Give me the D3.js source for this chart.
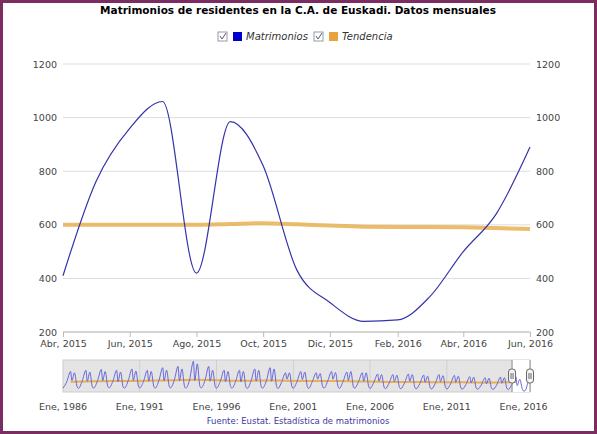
<!DOCTYPE html><html><head><meta charset="utf-8"><script src="https://cdn.jsdelivr.net/npm/d3@7"></script>
<style>body{margin:0;background:#fff}svg{display:block;font-family:Verdana,"DejaVu Sans",sans-serif}</style></head><body><svg id="c" width="597" height="434"></svg><script>
const months=["2015-04","2015-05","2015-06","2015-07","2015-08","2015-09","2015-10","2015-11","2015-12","2016-01","2016-02","2016-03","2016-04","2016-05","2016-06"];
const matrimonios=[410,760,960,1060,420,985,820,430,310,240,245,330,500,640,890];
const tendencia=[600,600,600,600,600,603,606,602,597,593,592,592,591,588,584];
const yTicks=[200,400,600,800,1000,1200];
const xTickLabels=["Abr, 2015","Jun, 2015","Ago, 2015","Oct, 2015","Dic, 2015","Feb, 2016","Abr, 2016","Jun, 2016"];
const xTickDates=["2015-04","2015-06","2015-08","2015-10","2015-12","2016-02","2016-04","2016-06"];
// navigator: per year values at Jan, Apr, Jul, Aug, Oct, Dec
const navYears=d3.range(1986,2016);
const navVals=[
[350,600,1000,650,950,420],[340,620,1050,620,980,400],[350,640,1080,640,1000,420],[360,620,1050,600,980,400],[350,640,1100,650,1020,430],
[360,620,1050,620,1000,420],[350,650,1150,640,1050,430],[360,660,1200,640,1100,420],[350,680,1400,650,1300,430],[360,650,1200,620,1050,420],
[350,620,1050,600,1000,410],[350,620,1050,600,1000,400],[340,630,1100,620,1050,400],[350,640,1150,620,1100,410],[340,600,950,700,950,400],
[350,620,1000,680,980,410],[340,620,950,700,920,400],[350,640,1000,700,960,410],[340,620,980,650,1000,400],[350,600,950,620,950,400],
[340,580,900,620,880,390],[330,560,880,600,860,380],[330,560,900,620,880,380],[320,540,860,580,820,370],[320,540,880,600,840,370],
[320,520,850,580,820,360],[310,500,800,560,780,350],[310,480,760,520,740,340],[300,480,780,540,760,330],[300,500,800,450,700,320]];
const navMonths=[0,3,6,7,9,11];
const navTrend=[600,610,620,625,630,640,650,660,680,670,650,640,645,650,640,630,625,630,625,615,600,590,590,585,585,580,575,570,575,590];

const svg=d3.select("#c");
svg.append("rect").attr("x",1.5).attr("y",1.5).attr("width",594).attr("height",431).attr("fill","#fff").attr("stroke","#7b2d62").attr("stroke-width",3);
svg.append("text").attr("x",298).attr("y",14).attr("text-anchor","middle").attr("font-size",10.5).attr("font-weight","bold").text("Matrimonios de residentes en la C.A. de Euskadi. Datos mensuales");
const lg=svg.append("g").attr("font-size",10).attr("font-style","italic");
[[218,"#0000cc","Matrimonios"],[314,"#e8a33c","Tendencia"]].forEach(([x,c,t])=>{
 lg.append("rect").attr("x",x).attr("y",32).attr("width",9).attr("height",9).attr("fill","#fff").attr("stroke","#99a");
 lg.append("path").attr("d",`M${x+2},${36}l2,3l4,-6`).attr("stroke","#557").attr("fill","none");
 lg.append("rect").attr("x",x+15).attr("y",32).attr("width",9).attr("height",9).attr("fill",c);
 lg.append("text").attr("x",x+28).attr("y",40).attr("fill","#333").text(t);
});
const parse=d3.timeParse("%Y-%m");
const dates=months.map(parse);
const x=d3.scaleTime().domain([dates[0],dates[dates.length-1]]).range([63,530]);
const y=d3.scaleLinear().domain([200,1200]).range([332,64]);
const g=svg.append("g");
yTicks.forEach(t=>g.append("line").attr("x1",63).attr("x2",530).attr("y1",y(t)).attr("y2",y(t)).attr("stroke","#ddd"));
g.append("line").attr("x1",63).attr("x2",530).attr("y1",332).attr("y2",332).attr("stroke","#bbb");
const fmt=d3.format("d");
const yl=d3.axisLeft(y).tickValues(yTicks).tickFormat(fmt).tickSize(0).tickPadding(6);
const yr=d3.axisRight(y).tickValues(yTicks).tickFormat(fmt).tickSize(0).tickPadding(6);
[[yl,63],[yr,530]].forEach(([a,px])=>{const ga=svg.append("g").attr("transform",`translate(${px},0)`).call(a);ga.select(".domain").remove();ga.selectAll("text").attr("font-size",9.5).attr("fill","#444").attr("font-family","Verdana,DejaVu Sans,sans-serif");});
const xa=svg.append("g").attr("transform","translate(0,332)").call(d3.axisBottom(x).tickValues(xTickDates.map(parse)).tickFormat((d,i)=>xTickLabels[i]).tickSize(5).tickPadding(3));
xa.select(".domain").remove();xa.selectAll("line").attr("stroke","#bbb");xa.selectAll("text").attr("font-size",9.5).attr("fill","#444").attr("font-family","Verdana,DejaVu Sans,sans-serif");
const line=d3.line().x((d,i)=>x(dates[i])).y(d=>y(d)).curve(d3.curveMonotoneX);
svg.append("path").datum(tendencia).attr("d",line).attr("fill","none").attr("stroke","#e8b050").attr("stroke-width",4).attr("opacity",0.85);
svg.append("path").datum(matrimonios).attr("d",line).attr("fill","none").attr("stroke","#3333aa").attr("stroke-width",1.2);
const nx=d3.scaleTime().domain([parse("1986-01"),parse("2016-06")]).range([63,530]);
const ny=d3.scaleLinear().domain([200,1450]).range([392,360]);
svg.append("rect").attr("x",63).attr("y",360).attr("width",467).attr("height",32).attr("fill","#e4e4e4").attr("stroke","#ccc");
svg.append("rect").attr("x",nx(dates[0])).attr("y",360).attr("width",530-nx(dates[0])).attr("height",32).attr("fill","#fff");
const navPts=[];navYears.forEach((yr,i)=>navMonths.forEach((m,j)=>navPts.push([new Date(yr,m,1),navVals[i][j]])));
months.forEach((m,i)=>{if(i>=9)navPts.push([dates[i],matrimonios[i]]);});
[1991,1996,2001,2006,2011].forEach(yr=>svg.append("line").attr("x1",nx(new Date(yr,0,1))).attr("x2",nx(new Date(yr,0,1))).attr("y1",360).attr("y2",392).attr("stroke","#d0d0d0"));
svg.append("path").datum(navTrend).attr("d",d3.line().x((d,i)=>nx(new Date(navYears[i],6,1))).y(d=>ny(d)).curve(d3.curveBasis)).attr("fill","none").attr("stroke","#e8b050").attr("stroke-width",2);
svg.append("path").datum(navPts).attr("d",d3.line().x(d=>nx(d[0])).y(d=>ny(d[1])).curve(d3.curveMonotoneX)).attr("fill","none").attr("stroke","#6666dd").attr("stroke-width",1);
[nx(dates[0]),530].forEach(hx=>{svg.append("line").attr("x1",hx).attr("x2",hx).attr("y1",360).attr("y2",392).attr("stroke","#888");
 svg.append("rect").attr("x",hx-3.5).attr("y",369).attr("width",7).attr("height",14).attr("rx",3).attr("fill","#f4f4f4").attr("stroke","#666");
 svg.append("line").attr("x1",hx-1).attr("x2",hx-1).attr("y1",373).attr("y2",379).attr("stroke","#666");svg.append("line").attr("x1",hx+1).attr("x2",hx+1).attr("y1",373).attr("y2",379).attr("stroke","#666");});
const navTicks=[1986,1991,1996,2001,2006,2011,2016];
navTicks.forEach(yr=>svg.append("text").attr("x",nx(new Date(yr,0,1))).attr("y",410).attr("text-anchor","middle").attr("font-size",9.5).attr("fill","#444").text("Ene, "+yr));
svg.append("text").attr("x",298).attr("y",424).attr("text-anchor","middle").attr("font-size",8.5).attr("fill","#3a3aa0").text("Fuente: Eustat. Estadística de matrimonios");
</script></body></html>
